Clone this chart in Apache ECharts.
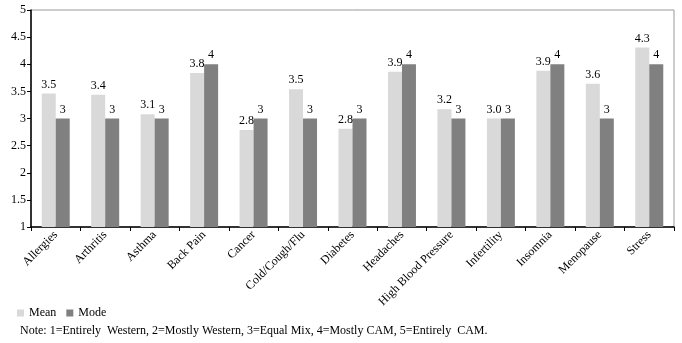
<!DOCTYPE html>
<html>
<head>
<meta charset="utf-8">
<script src="https://cdn.jsdelivr.net/npm/echarts@6/dist/echarts.min.js"></script>
<style>
  html, body { margin: 0; padding: 0; background: #fff; }
  #chart { width: 682px; height: 343px; }
</style>
</head>
<body>
<div id="chart"></div>
<script>
  const categories = ['Allergies', 'Arthritis', 'Asthma', 'Back Pain', 'Cancer', 'Cold/Cough/Flu', 'Diabetes',
    'Headaches', 'High Blood Pressure', 'Infertility', 'Insomnia', 'Menopause', 'Stress']
  const meanData = [3.46, 3.44, 3.08, 3.84, 2.79, 3.54, 2.81, 3.86, 3.17, 3.0, 3.88, 3.64, 4.31]
  const modeData = [3, 3, 3, 4, 3, 3, 3, 4, 3, 3, 4, 3, 4]
  const noteText = 'Note: 1=Entirely  Western, 2=Mostly Western, 3=Equal Mix, 4=Mostly CAM, 5=Entirely  CAM.'

  const font = '"Liberation Serif", "DejaVu Serif", serif'
  const myChart = echarts.init(document.getElementById('chart'))
  const option = {
    animation: false,
    textStyle: { fontFamily: font },
    grid: {
      left: 31, right: 8, top: 10, bottom: 116,
      show: true,
      borderColor: '#999',
      borderWidth: 1,
    },
    legend: {
      data: ['Mean', 'Mode'],
      left: 12,
      top: 302,
      icon: 'rect',
      itemWidth: 7,
      itemHeight: 7,
      itemGap: 10,
      textStyle: { fontFamily: font, fontSize: 12, color: '#000' },
    },
    graphic: [
      {
        type: 'text',
        left: 20,
        top: 325,
        style: { text: noteText, font: '12px ' + font, fill: '#000' },
      },
    ],
    xAxis: {
      type: 'category',
      data: categories,
      axisLine: { lineStyle: { color: '#000', width: 1.5 } },
      axisTick: { show: true, length: 4, lineStyle: { color: '#000' } },
      axisLabel: {
        rotate: 45,
        interval: 0,
        color: '#000',
        fontSize: 12,
        fontFamily: font,
        margin: 6,
      },
    },
    yAxis: {
      type: 'value',
      min: 1,
      max: 5,
      interval: 0.5,
      axisLine: { show: true, lineStyle: { color: '#000', width: 1.5 } },
      axisTick: { show: true, length: 4, lineStyle: { color: '#000' } },
      splitLine: { show: false },
      axisLabel: { color: '#000', fontSize: 12, fontFamily: font, margin: 5 },
    },
    series: [
      {
        name: 'Mean',
        type: 'bar',
        barWidth: 14,
        barGap: '0%',
        itemStyle: { color: '#d9d9d9' },
        label: {
          show: true,
          position: 'top',
          distance: 3,
          color: '#000',
          fontSize: 12,
          fontFamily: font,
          formatter: p => p.value.toFixed(1),
        },
        data: meanData,
      },
      {
        name: 'Mode',
        type: 'bar',
        barWidth: 14,
        barGap: '0%',
        itemStyle: { color: '#808080' },
        label: {
          show: true,
          position: 'top',
          distance: 3,
          color: '#000',
          fontSize: 12,
          fontFamily: font,
        },
        data: modeData,
      },
    ],
  }
  option && myChart.setOption(option)
</script>
</body>
</html>
